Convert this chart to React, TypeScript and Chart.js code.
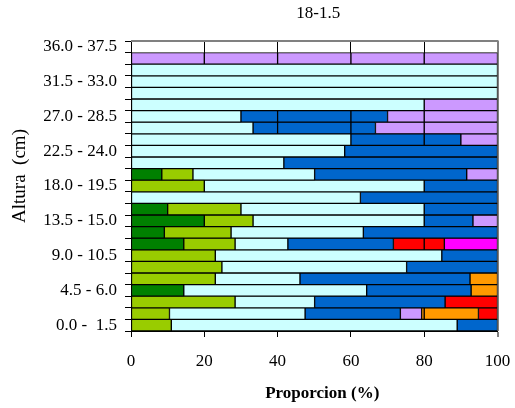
import { useEffect, useRef } from "react";
import { Chart, registerables } from "chart.js";

Chart.register(...registerables);

const chartTitle = "18-1.5";
const xAxisTitle = "Proporcion (%)";
const yAxisTitle = "Altura  (cm)";

// Height classes, bottom (index 0) to top
const categories = [
  "0.0 -  1.5", "1.5 - 3.0", "3.0 - 4.5", "4.5 - 6.0", "6.0 - 7.5",
  "7.5 - 9.0", "9.0 - 10.5", "10.5 - 12.0", "12.0 - 13.5", "13.5 - 15.0",
  "15.0 - 16.5", "16.5 - 18.0", "18.0 - 19.5", "19.5 - 21.0", "21.0 - 22.5",
  "22.5 - 24.0", "24.0 - 25.5", "25.5 - 27.0", "27.0 - 28.5", "28.5 - 30.0",
  "30.0 - 31.5", "31.5 - 33.0", "33.0 - 34.5", "34.5 - 36.0", "36.0 - 37.5",
];

const xTicks = [0, 20, 40, 60, 80, 100];

// Segment values (%) per height class, in stacking order
const darkGreen = [0, 0, 0, 14.4, 0, 0, 0, 14.4, 9.1, 20, 10, 0, 0, 8.4, 0, 0, 0, 0, 0, 0, 0, 0, 0, 0, 0];
const yellowGreen = [11, 10.5, 28.4, 0, 23, 24.8, 23, 14, 18.2, 13.3, 20, 0, 20, 8.5, 0, 0, 0, 0, 0, 0, 0, 0, 0, 0, 0];
const lightCyan = [78, 37, 21.7, 49.9, 23.1, 50.4, 61.8, 14.4, 36.1, 46.7, 50, 62.6, 60, 33.2, 41.7, 58.3, 60, 33.3, 30, 80, 100, 100, 100, 0, 0];
const blueA = [11, 26, 35.6, 28.5, 46.4, 24.8, 15.2, 28.8, 36.6, 13.3, 20, 37.4, 20, 41.5, 58.3, 41.7, 0, 6.7, 10, 0, 0, 0, 0, 0, 0];
const blueB = [0, 0, 0, 0, 0, 0, 0, 0, 0, 0, 0, 0, 0, 0, 0, 0, 0, 20, 20, 0, 0, 0, 0, 0, 0];
const blueC = [0, 0, 0, 0, 0, 0, 0, 0, 0, 0, 0, 0, 0, 0, 0, 0, 20, 6.7, 10, 0, 0, 0, 0, 0, 0];
const purpleA = [0, 5.8, 0, 0, 0, 0, 0, 0, 0, 6.7, 0, 0, 0, 8.4, 0, 0, 0, 13.3, 10, 20, 0, 0, 0, 20, 0];
const orangeA = [0, 0.7, 0, 7.2, 7.5, 0, 0, 0, 0, 0, 0, 0, 0, 0, 0, 0, 0, 0, 0, 0, 0, 0, 0, 0, 0];
const redA = [0, 0, 0, 0, 0, 0, 0, 8.4, 0, 0, 0, 0, 0, 0, 0, 0, 0, 0, 0, 0, 0, 0, 0, 0, 0];
const blueD = [0, 0, 0, 0, 0, 0, 0, 0, 0, 0, 0, 0, 0, 0, 0, 0, 10, 0, 0, 0, 0, 0, 0, 0, 0];
const purpleB = [0, 0, 0, 0, 0, 0, 0, 0, 0, 0, 0, 0, 0, 0, 0, 0, 10, 20, 20, 0, 0, 0, 0, 20, 0];
const orangeB = [0, 14.8, 0, 0, 0, 0, 0, 0, 0, 0, 0, 0, 0, 0, 0, 0, 0, 0, 0, 0, 0, 0, 0, 0, 0];
const redB = [0, 5.2, 14.3, 0, 0, 0, 0, 5.5, 0, 0, 0, 0, 0, 0, 0, 0, 0, 0, 0, 0, 0, 0, 0, 0, 0];
const magenta = [0, 0, 0, 0, 0, 0, 0, 14.5, 0, 0, 0, 0, 0, 0, 0, 0, 0, 0, 0, 0, 0, 0, 0, 0, 0];
const purpleC = [0, 0, 0, 0, 0, 0, 0, 0, 0, 0, 0, 0, 0, 0, 0, 0, 0, 0, 0, 0, 0, 0, 0, 20, 0];
const purpleD = [0, 0, 0, 0, 0, 0, 0, 0, 0, 0, 0, 0, 0, 0, 0, 0, 0, 0, 0, 0, 0, 0, 0, 20, 0];
const purpleE = [0, 0, 0, 0, 0, 0, 0, 0, 0, 0, 0, 0, 0, 0, 0, 0, 0, 0, 0, 0, 0, 0, 0, 20, 0];

const C_DG = "#008000";
const C_YG = "#99CC00";
const C_CY = "#CCFFFF";
const C_BL = "#0066CC";
const C_PU = "#CC99FF";
const C_OR = "#FF9900";
const C_RD = "#FF0000";
const C_MG = "#FF00FF";

const series: [string, number[], string][] = [
  ["dg", darkGreen, C_DG],
  ["yg", yellowGreen, C_YG],
  ["cy", lightCyan, C_CY],
  ["blA", blueA, C_BL],
  ["blB", blueB, C_BL],
  ["blC", blueC, C_BL],
  ["puA", purpleA, C_PU],
  ["orA", orangeA, C_OR],
  ["rdA", redA, C_RD],
  ["blD", blueD, C_BL],
  ["puB", purpleB, C_PU],
  ["orB", orangeB, C_OR],
  ["rdB", redB, C_RD],
  ["mg", magenta, C_MG],
  ["puC", purpleC, C_PU],
  ["puD", purpleD, C_PU],
  ["puE", purpleE, C_PU],
];

const FONT = '"Liberation Serif", "Times New Roman", serif';

const titlesPlugin = {
  id: "titlesPlugin",
  afterDraw(chart: any) {
    const { ctx, chartArea } = chart;
    ctx.save();
    // top plot border
    ctx.strokeStyle = "#808080";
    ctx.lineWidth = 2;
    ctx.beginPath();
    ctx.moveTo(chartArea.left, chartArea.top);
    ctx.lineTo(chartArea.right + 1, chartArea.top);
    ctx.stroke();

    ctx.fillStyle = "#000";
    ctx.textAlign = "center";
    ctx.textBaseline = "middle";
    ctx.font = `17px ${FONT}`;
    const cx = (chartArea.left + chartArea.right) / 2;
    ctx.fillText(chartTitle, cx + 4, 14);

    ctx.font = `bold 17px ${FONT}`;
    ctx.fillText(xAxisTitle, cx + 8, 394);

    ctx.font = `19px ${FONT}`;
    ctx.translate(20, 176);
    ctx.rotate(-Math.PI / 2);
    ctx.fillText(yAxisTitle, 0, 0);
    ctx.restore();
  },
};

export default function App() {
  const ref = useRef<HTMLCanvasElement | null>(null);

  useEffect(() => {
    if (!ref.current) return;
    const chart = new Chart(ref.current, {
      type: "bar",
      data: {
        labels: categories,
        datasets: series.map(([label, values, color]) => ({
          label,
          data: values.map((v) => (v === 0 ? null : v)),
          backgroundColor: color,
          borderColor: "#000",
          borderWidth: 1,
          borderSkipped: false,
          barPercentage: 1,
          categoryPercentage: 1,
        })),
      },
      options: {
        indexAxis: "y",
        animation: false,
        responsive: false,
        devicePixelRatio: 1,
        layout: { padding: { top: 41, right: 17.5, left: 0, bottom: 0 } },
        plugins: {
          legend: { display: false },
          title: { display: false },
          tooltip: { enabled: false },
        },
        scales: {
          x: {
            stacked: true,
            min: 0,
            max: 100,
            afterBuildTicks: (scale: any) => {
              scale.ticks = xTicks.map((v) => ({ value: v }));
            },
            afterFit: (scale: any) => {
              scale.height = 77;
              scale.paddingRight = 0;
              scale.paddingLeft = 0;
            },
            ticks: {
              color: "#000",
              font: { family: FONT, size: 17 },
              padding: 14,
              maxRotation: 0,
            },
            grid: {
              color: (c: any) => (c.tick && c.tick.value === 100 ? "#808080" : "#000"),
              lineWidth: (c: any) => (c.tick && c.tick.value === 100 ? 2 : 1),
              tickColor: "#000",
              tickWidth: 1,
              tickLength: 6,
            },
            border: { display: true, color: "#000", width: 1 },
          },
          y: {
            stacked: true,
            reverse: true,
            afterFit: (scale: any) => {
              scale.width = 131;
            },
            ticks: {
              autoSkip: false,
              color: "#000",
              font: { family: FONT, size: 17 },
              padding: 8,
              callback: (_v: any, i: number) => (i % 3 === 0 ? categories[i] : ""),
            },
            grid: {
              offset: true,
              drawOnChartArea: false,
              color: "#000",
              tickColor: "#000",
              tickLength: 6,
            },
            border: { display: true, color: "#000", width: 1 },
          },
        },
      },
      plugins: [titlesPlugin],
    });
    return () => chart.destroy();
  }, []);

  return (
    <div style={{ position: "absolute", left: 0, top: 0, width: 515, height: 408, background: "#fff" }}>
      <canvas ref={ref} width={515} height={408} style={{ display: "block" }} />
    </div>
  );
}
